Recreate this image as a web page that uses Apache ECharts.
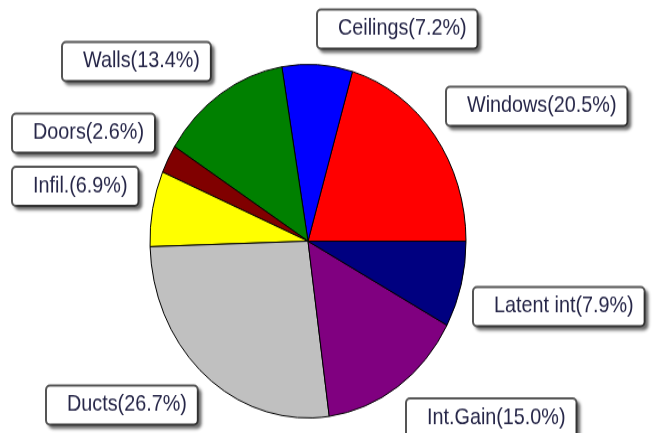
<!DOCTYPE html>
<html>
<head>
<meta charset="utf-8">
<script src="https://cdn.jsdelivr.net/npm/echarts@6/dist/echarts.min.js"></script>
<style>
html,body{margin:0;padding:0;background:#fff;width:652px;height:433px;overflow:hidden;}
#wrap{position:relative;width:652px;height:433px;overflow:hidden;}
#c{position:absolute;left:0;top:0;width:652px;height:387px;transform:scaleY(1.119);transform-origin:0 0;}
</style>
</head>
<body>
<div id="wrap"><div id="c"></div></div>
<script>
// Data (counter-clockwise from 3 o'clock)
var categories = ['Windows','Ceilings','Walls','Doors','Infil.','Ducts','Int.Gain','Latent int'];
var shares = [20.5, 7.2, 13.4, 2.6, 6.9, 26.7, 15.0, 7.9];
var colors = ['#ff0000','#0000ff','#008000','#800000','#ffff00','#c0c0c0','#800080','#000080'];

// Label box placement (left edge x, vertical centre y) in chart space
var labelPos = [
  [447, 95], [318, 26], [63, 55], [13, 119],
  [13, 166.5], [47, 362], [407, 373.5], [474, 274]
];

var chart = echarts.init(document.getElementById('c'), null, {renderer:'canvas'});
var data = categories.map(function(n,i){
  return {name:n, value:shares[i], itemStyle:{color:colors[i]}};
});
chart.setOption({
  animation:false,
  series:[{
    type:'pie',
    center:[308, 215.5],
    radius:[0, 158],
    startAngle:0,
    clockwise:false,
    avoidLabelOverlap:false,
    data:data,
    itemStyle:{borderColor:'#000', borderWidth:1},
    emphasis:{disabled:true},
    label:{
      show:true,
      position:'outside',
      formatter:function(p){ return p.name + '(' + p.value.toFixed(1) + '%)'; },
      fontFamily:'Liberation Sans, Arial, sans-serif',
      fontSize:19.8,
      lineHeight:19,
      color:'#262648',
      backgroundColor:'#fff',
      borderColor:'#555',
      borderWidth:2,
      borderRadius:3,
      padding:[7,10,7,20],
      shadowColor:'rgba(0,0,0,0.45)',
      shadowBlur:3,
      shadowOffsetX:3,
      shadowOffsetY:3
    },
    labelLine:{show:false},
    labelLayout:function(params){
      var p = labelPos[params.dataIndex];
      return {x:p[0], y:p[1], align:'left', verticalAlign:'middle', hideOverlap:false};
    }
  }]
});
</script>
</body>
</html>
